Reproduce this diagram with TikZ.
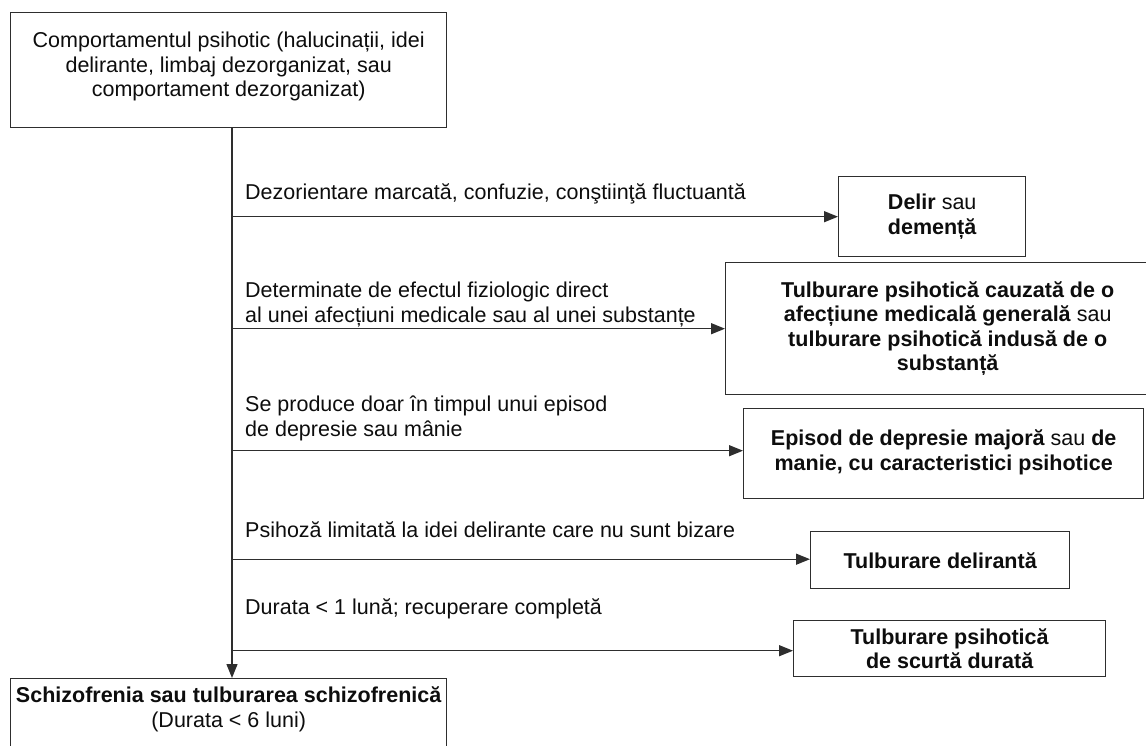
\documentclass[tikz,border=0pt]{standalone}
\usepackage{fontspec}
\setmainfont{Liberation Sans}
\usetikzlibrary{arrows.meta}
\definecolor{inkline}{gray}{0.18}
\definecolor{inktext}{gray}{0.05}
\begin{document}
\begin{tikzpicture}[x=1pt,y=-1pt,
  every node/.style={text=inktext},
  box/.style={draw=inkline, line width=1.4pt, fill=white, inner sep=0pt,
    align=center, anchor=north west, font=\fontsize{21.5}{24.5}\selectfont},
  lbl/.style={anchor=base west, inner sep=0pt, font=\fontsize{21.5}{24.5}\selectfont},
  flow/.style={draw=inkline, line width=1.3pt, -{Triangle[length=14pt,width=11pt]}}]
\useasboundingbox (0,0) rectangle (1146,746);
\clip (0,0) rectangle (1146,746);

% starting box
\node[box, minimum width=436, minimum height=115] (top) at (10,12)
  {Comportamentul psihotic (halucinații, idei\\delirante, limbaj dezorganizat, sau\\comportament dezorganizat)\\[-13pt]};

% outcome boxes on the right
\node[box, minimum width=187, minimum height=80] (b1) at (838,176)
  {\textbf{Delir} sau\\\textbf{demență}};
\node[box, minimum width=444, minimum height=132] (b2) at (725,262)
  {\textbf{Tulburare psihotică cauzată de o}\\\textbf{afecțiune medicală generală} sau\\\textbf{tulburare psihotică indusă de o}\\\textbf{substanță}};
\node[box, minimum width=400, minimum height=90] (b3) at (743,408)
  {\textbf{Episod de depresie majoră} sau \textbf{de}\\\textbf{manie, cu caracteristici psihotice}\\[-17pt]};
\node[box, minimum width=259, minimum height=57] (b4) at (810,531)
  {\textbf{Tulburare delirantă}};
\node[box, minimum width=312, minimum height=56] (b5) at (793,620)
  {\textbf{Tulburare psihotică}\\\textbf{de scurtă durată}};

% final box, running past the lower edge
\node[box, minimum width=436, inner ysep=8pt] (bot) at (10,678)
  {\parbox[t][90pt][t]{430pt}{\centering\textbf{Schizofrenia sau tulburarea schizofrenică}\\(Durata < 6 luni)}};

% main line
\coordinate (t0) at ([xshift=222pt]top.south west);
\draw[flow] (t0) -- (t0 |- bot.north);

% branches
\draw[flow] (t0 |- b1.west) -- (b1.west);
\draw[flow] (t0 |- b2.west) -- (b2.west);
\draw[flow] ([yshift=3pt]t0 |- b3.west) -- ([yshift=3pt]b3.west);
\draw[flow] ([yshift=1pt]t0 |- b4.west) -- ([yshift=1pt]b4.west);
\draw[flow] ([yshift=-2pt]t0 |- b5.west) -- ([yshift=-2pt]b5.west);

% branch conditions
\node[lbl] (c1) at (245,200) {Dezorientare marcată, confuzie, conştiinţă fluctuantă};
\node[lbl] (c2) at (245,322) {\begin{tabular}[b]{@{}l@{}}Determinate de efectul fiziologic direct\\al unei afecțiuni medicale sau al unei substanțe\end{tabular}};
\node[lbl] (c3) at (245,436) {\begin{tabular}[b]{@{}l@{}}Se produce doar în timpul unui episod\\de depresie sau mânie\end{tabular}};
\node[lbl] (c4) at (245,537) {Psihoză limitată la idei delirante care nu sunt bizare};
\node[lbl] (c5) at (245,614) {Durata < 1 lună; recuperare completă};
\end{tikzpicture}
\end{document}
